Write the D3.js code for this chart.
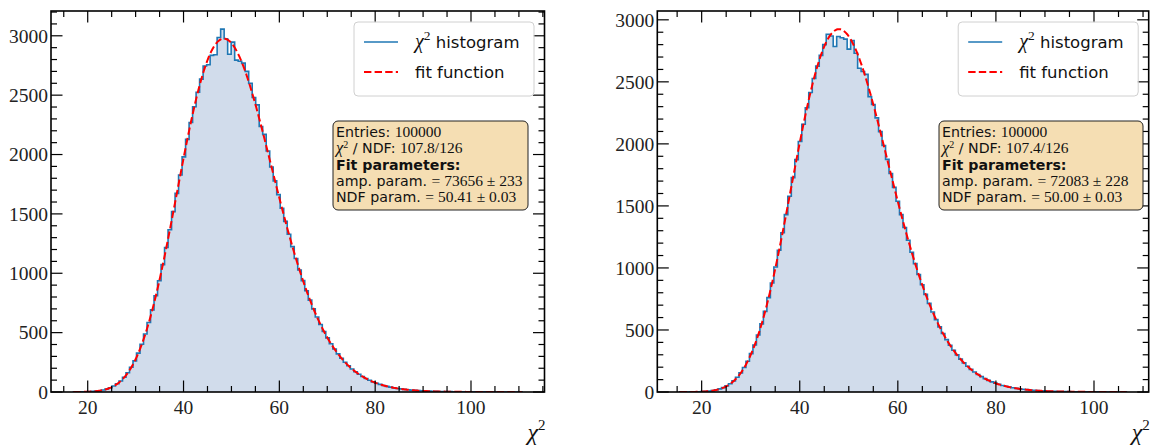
<!DOCTYPE html>
<html>
<head>
<meta charset="utf-8">
<script src="https://cdn.jsdelivr.net/npm/d3@7"></script>
<style>
  body { margin: 0; background: #fff; }
  svg { display: block; }
</style>
</head>
<body>
<svg id="chart" width="1151" height="447"></svg>
<script>
// ---- histogram contents (128 equal bins per sample) ----
const countsA = [
  1, 0, 1, 2, 3, 5, 7, 11, 17, 25, 36, 50, 69, 93, 124, 162, 208, 262, 327, 402,
  488, 585, 692, 810, 937, 1073, 1217, 1366, 1519, 1673, 1828, 1980, 2128, 2270, 2403, 2525, 2635, 2745, 2756, 2835,
  2840, 2986, 3056, 2975, 2845, 2947, 2795, 2785, 2770, 2700, 2600, 2480, 2418, 2236, 2170, 2030, 1895, 1778, 1662, 1548,
  1437, 1328, 1224, 1124, 1028, 938, 853, 774, 700, 632, 569, 510, 456, 406, 362, 321, 284, 251, 221, 194,
  170, 149, 130, 114, 99, 85, 74, 64, 55, 47, 41, 35, 30, 26, 22, 19, 16, 14, 12, 10,
  8, 7, 6, 5, 4, 4, 3, 3, 2, 2, 2, 1, 1, 1, 1, 1, 0, 1, 0, 0,
  0, 0, 0, 0, 0, 0, 0, 1
];
const countsB = [
  1, 0, 0, 1, 1, 2, 3, 5, 7, 11, 17, 25, 35, 49, 67, 90, 119, 154, 197, 248,
  309, 379, 459, 549, 650, 761, 879, 1008, 1143, 1284, 1430, 1578, 1728, 1873, 2019, 2158, 2291, 2414, 2527, 2627,
  2713, 2800, 2884, 2870, 2785, 2866, 2855, 2844, 2764, 2833, 2731, 2610, 2583, 2560, 2381, 2317, 2210, 2099, 1987, 1875,
  1761, 1649, 1538, 1430, 1326, 1223, 1127, 1035, 947, 864, 787, 714, 645, 583, 525, 471, 422, 377, 336, 299,
  265, 235, 207, 182, 161, 141, 124, 108, 94, 82, 71, 62, 53, 46, 40, 34, 29, 25, 22, 19,
  16, 14, 12, 10, 9, 7, 6, 5, 4, 4, 3, 3, 2, 2, 2, 1, 1, 1, 1, 1,
  0, 1, 0, 0, 0, 0, 0, 1
];

// histogram range (sample min .. max)
const rangeA = [17.02, 110.66];
const rangeB = [15.51, 106.60];

// fit results: chi-square pdf scaled by amplitude
const fitA = { amp: 73656, ampErr: 233, ndf: 50.41, ndfErr: 0.03 };
const fitB = { amp: 72083, ampErr: 228, ndf: 50.00, ndfErr: 0.03 };

const entries = [100000, 100000];
const chi2Text = ["107.8/126", "107.4/126"];
const fitNdfText = ["50.41", "50.00"];

const xMajorTicks = [20, 40, 60, 80, 100];
const yMajorStep = 500;

// ---- helpers ----
function lnGamma(z) {
  const g = 7;
  const c = [0.99999999999980993, 676.5203681218851, -1259.1392167224028,
    771.32342877765313, -176.61503916999185, 12.507343278686905,
    -0.13857109526572012, 9.9843695780195716e-6, 1.5056327351493116e-7];
  if (z < 0.5) return Math.log(Math.PI / Math.sin(Math.PI * z)) - lnGamma(1 - z);
  z -= 1;
  let x = c[0];
  for (let i = 1; i < g + 2; i++) x += c[i] / (z + i);
  const t = z + g + 0.5;
  return 0.5 * Math.log(2 * Math.PI) + (z + 0.5) * Math.log(t) - t + Math.log(x);
}
function chi2pdf(x, k) {
  if (x <= 0) return 0;
  return Math.exp((k / 2 - 1) * Math.log(x) - x / 2 - (k / 2) * Math.log(2) - lnGamma(k / 2));
}

const svg = d3.select("#chart");
const SERIF = "'Liberation Serif', 'Times New Roman', serif";
const SANS = "'DejaVu Sans', 'Liberation Sans', sans-serif";

const panels = [
  { counts: countsA, range: rangeA, fit: fitA,
    box: { x0: 51, x1: 544.5, y0: 11, y1: 392 },
    stat: { x: 333, y: 121, w: 195, h: 89 } },
  { counts: countsB, range: rangeB, fit: fitB,
    box: { x0: 657.3, x1: 1148.7, y0: 11, y1: 392 },
    stat: { x: 939, y: 121, w: 204, h: 89 } }
];

panels.forEach((p, pi) => {
  const { x0, x1, y0, y1 } = p.box;
  const n = p.counts.length;
  const [lo, hi] = p.range;
  const bw = (hi - lo) / n;
  const edges = d3.range(n + 1).map(i => lo + i * bw);
  const span = hi - lo;
  const x = d3.scaleLinear().domain([lo - 0.05 * span, hi + 0.05 * span]).range([x0, x1]);

  const fitXs = d3.range(0, 601).map(i => lo + (span * i) / 600);
  const fitPts = fitXs.map(v => [v, p.fit.amp * chi2pdf(v, p.fit.ndf)]);
  const ymax = 1.05 * Math.max(d3.max(p.counts), d3.max(fitPts, d => d[1]));
  const y = d3.scaleLinear().domain([0, ymax]).range([y1, y0]);

  const g = svg.append("g");
  const clipId = "clip" + pi;
  svg.append("clipPath").attr("id", clipId)
    .append("rect").attr("x", x0).attr("y", y0).attr("width", x1 - x0).attr("height", y1 - y0);
  const plot = g.append("g").attr("clip-path", `url(#${clipId})`);

  // filled histogram
  const area = d3.area()
    .curve(d3.curveStepAfter)
    .x(d => x(d[0])).y0(y(0)).y1(d => y(d[1]));
  const stepData = p.counts.map((c, i) => [edges[i], c]).concat([[hi, p.counts[n - 1]]]);
  plot.append("path").attr("d", area(stepData)).attr("fill", "#d1dceb");

  // step outline
  const line = d3.line().curve(d3.curveStepAfter).x(d => x(d[0])).y(d => y(d[1]));
  const outline = [[lo, 0]].concat(stepData).concat([[hi, 0]]);
  plot.append("path").attr("d", line(outline))
    .attr("fill", "none").attr("stroke", "#1f77b4").attr("stroke-width", 1.6);

  // fit curve
  const fitLine = d3.line().x(d => x(d[0])).y(d => y(d[1]));
  plot.append("path").attr("d", fitLine(fitPts))
    .attr("fill", "none").attr("stroke", "#ff0000").attr("stroke-width", 2)
    .attr("stroke-dasharray", "7.4,3.2");

  // ticks (inward, all four sides)
  const xMinor = d3.range(Math.ceil(x.domain()[0] / 5) * 5, x.domain()[1], 5).filter(v => v % 20 !== 0);
  const yMaj = d3.range(0, ymax, yMajorStep);
  const yMinor = d3.range(0, ymax, 100).filter(v => v % yMajorStep !== 0);
  const tk = g.append("g").attr("stroke", "#000").attr("stroke-width", 1.2);
  const majL = 11.5, minL = 6;
  xMajorTicks.forEach(v => {
    tk.append("line").attr("x1", x(v)).attr("x2", x(v)).attr("y1", y1).attr("y2", y1 - majL);
    tk.append("line").attr("x1", x(v)).attr("x2", x(v)).attr("y1", y0).attr("y2", y0 + majL);
  });
  xMinor.forEach(v => {
    tk.append("line").attr("x1", x(v)).attr("x2", x(v)).attr("y1", y1).attr("y2", y1 - minL);
    tk.append("line").attr("x1", x(v)).attr("x2", x(v)).attr("y1", y0).attr("y2", y0 + minL);
  });
  yMaj.forEach(v => {
    tk.append("line").attr("y1", y(v)).attr("y2", y(v)).attr("x1", x0).attr("x2", x0 + majL);
    tk.append("line").attr("y1", y(v)).attr("y2", y(v)).attr("x1", x1).attr("x2", x1 - majL);
  });
  yMinor.forEach(v => {
    tk.append("line").attr("y1", y(v)).attr("y2", y(v)).attr("x1", x0).attr("x2", x0 + minL);
    tk.append("line").attr("y1", y(v)).attr("y2", y(v)).attr("x1", x1).attr("x2", x1 - minL);
  });

  // frame
  g.append("rect").attr("x", x0).attr("y", y0).attr("width", x1 - x0).attr("height", y1 - y0)
    .attr("fill", "none").attr("stroke", "#000").attr("stroke-width", 1.6);

  // tick labels
  xMajorTicks.forEach(v => {
    g.append("text").attr("x", x(v)).attr("y", y1 + 21.5)
      .attr("text-anchor", "middle").style("font-family", SERIF).attr("font-size", 19.5)
      .attr("fill", "#222").text(v);
  });
  yMaj.forEach(v => {
    g.append("text").attr("x", x0 - 3).attr("y", y(v) + 6.8)
      .attr("text-anchor", "end").style("font-family", SERIF).attr("font-size", 19.5)
      .attr("fill", "#222").text(v);
  });

  // axis label
  const xl = g.append("text").attr("x", x1 + 1).attr("y", 440)
    .attr("text-anchor", "end").style("font-family", SERIF).attr("fill", "#111");
  xl.append("tspan").attr("font-style", "italic").attr("font-size", 24).text("χ");
  xl.append("tspan").attr("font-size", 15).attr("dy", -10).text("2");

  // legend
  const lg = g.append("g");
  const lx = x1 - 190.5, ly = y0 + 11;
  lg.append("rect").attr("x", lx).attr("y", ly).attr("width", 180).attr("height", 74)
    .attr("rx", 4).attr("fill", "#fff").attr("fill-opacity", 0.8)
    .attr("stroke", "#d0d0d0").attr("stroke-width", 1);
  lg.append("line").attr("x1", lx + 10).attr("x2", lx + 44).attr("y1", ly + 20).attr("y2", ly + 20)
    .attr("stroke", "#1f77b4").attr("stroke-width", 1.5);
  lg.append("line").attr("x1", lx + 10).attr("x2", lx + 44).attr("y1", ly + 50).attr("y2", ly + 50)
    .attr("stroke", "#ff0000").attr("stroke-width", 2).attr("stroke-dasharray", "7.4,3.2");
  const t1 = lg.append("text").attr("x", lx + 61).attr("y", ly + 26).attr("fill", "#111");
  t1.append("tspan").style("font-family", SERIF).attr("font-style", "italic").attr("font-size", 20).text("χ");
  t1.append("tspan").style("font-family", SERIF).attr("font-size", 13.5).attr("dy", -8).text("2");
  t1.append("tspan").style("font-family", SANS).attr("font-size", 16.5).attr("dy", 8).text(" histogram");
  lg.append("text").attr("x", lx + 61).attr("y", ly + 56).attr("fill", "#111")
    .style("font-family", SANS).attr("font-size", 16.5).text("fit function");

  // statistics box
  const s = p.stat;
  const sb = g.append("g");
  sb.append("rect").attr("x", s.x).attr("y", s.y).attr("width", s.w).attr("height", s.h)
    .attr("rx", 5).attr("fill", "#f5deb3").attr("stroke", "#222").attr("stroke-width", 1);
  const tx = s.x + 3, base = s.y + 16, lh = 16.3;
  const fsS = 14.2, fsM = 15.5;
  const l1 = sb.append("text").attr("x", tx).attr("y", base).attr("fill", "#111");
  l1.append("tspan").style("font-family", SANS).attr("font-size", fsS).text("Entries: ");
  l1.append("tspan").style("font-family", SERIF).attr("font-size", fsM).text(entries[pi]);
  const l2 = sb.append("text").attr("x", tx).attr("y", base + lh).attr("fill", "#111");
  l2.append("tspan").style("font-family", SERIF).attr("font-style", "italic").attr("font-size", fsM + 1).text("χ");
  l2.append("tspan").style("font-family", SERIF).attr("font-size", 10).attr("dy", -5).text("2");
  l2.append("tspan").style("font-family", SANS).attr("font-size", fsS).attr("dy", 5).text(" / NDF: ");
  l2.append("tspan").style("font-family", SERIF).attr("font-size", fsM).text(chi2Text[pi]);
  sb.append("text").attr("x", tx).attr("y", base + 2 * lh).attr("fill", "#111")
    .style("font-family", SANS).attr("font-size", fsS).attr("font-weight", "bold").text("Fit parameters:");
  const l4 = sb.append("text").attr("x", tx).attr("y", base + 3 * lh).attr("fill", "#111");
  l4.append("tspan").style("font-family", SANS).attr("font-size", fsS).text("amp. param. ");
  l4.append("tspan").style("font-family", SERIF).attr("font-size", fsM)
    .text(`= ${p.fit.amp} ± ${p.fit.ampErr}`);
  const l5 = sb.append("text").attr("x", tx).attr("y", base + 4 * lh).attr("fill", "#111");
  l5.append("tspan").style("font-family", SANS).attr("font-size", fsS).text("NDF param. ");
  l5.append("tspan").style("font-family", SERIF).attr("font-size", fsM)
    .text(`= ${fitNdfText[pi]} ± ${p.fit.ndfErr.toFixed(2)}`);
});
</script>
</body>
</html>
